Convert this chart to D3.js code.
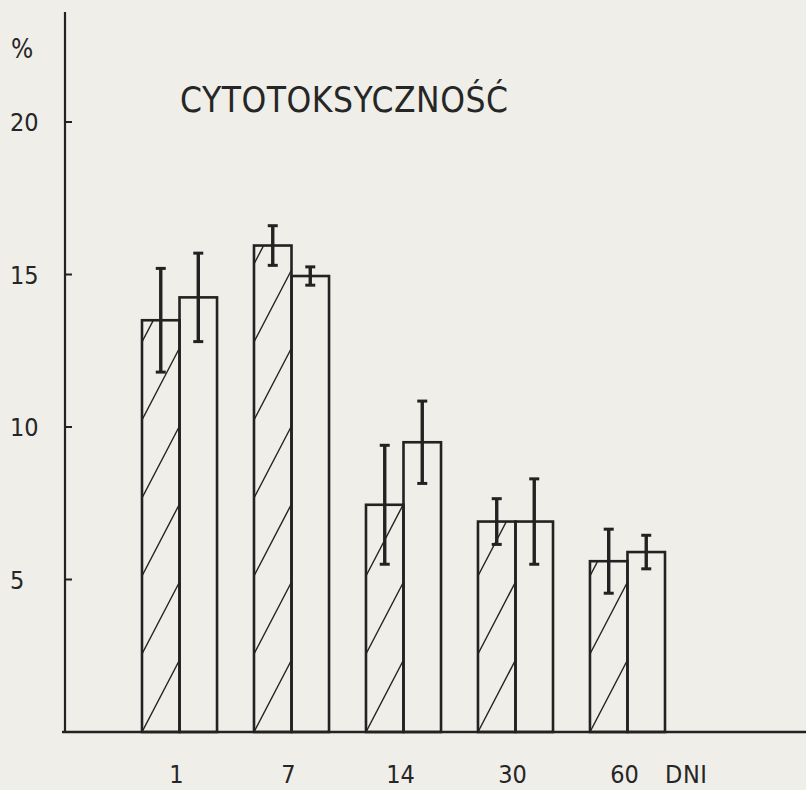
<!DOCTYPE html>
<html>
<head>
<meta charset="utf-8">
<script src="https://cdn.jsdelivr.net/npm/d3@7"></script>
<style>
  body { margin: 0; background: #efeee8; }
  svg { display: block; }
  text { font-family: "DejaVu Sans Condensed", "DejaVu Sans", sans-serif; fill: #262626; }
</style>
</head>
<body>
<svg width="806" height="790"></svg>
<script>
// days after treatment (x categories)
const days = ["1", "7", "14", "30", "60"];
// hatched bars and their error (half range)
const hatched = [13.5, 15.95, 7.45, 6.9, 5.6];
const hatchedErr = [1.7, 0.65, 1.95, 0.75, 1.05];
// open bars and their error
const open = [14.25, 14.95, 9.5, 6.9, 5.9];
const openErr = [1.45, 0.3, 1.35, 1.4, 0.55];
const yTicks = [5, 10, 15, 20];

const ink = "#222";
const svg = d3.select("svg");

const baseY = 732;
const axisX = 65;

const y = d3.scaleLinear().domain([0, 20]).range([baseY, 122]);

const x0 = d3.scaleBand()
  .domain(days)
  .range([142, 665])
  .paddingInner(0.33)
  .paddingOuter(0);

const x1 = d3.scaleBand()
  .domain(["h", "o"])
  .range([0, x0.bandwidth()]);

const rows = days.map((d, i) => [
  { day: d, key: "h", value: hatched[i], err: hatchedErr[i] },
  { day: d, key: "o", value: open[i], err: openErr[i] }
]).flat();

// axes
svg.append("line")
  .attr("x1", axisX).attr("x2", axisX)
  .attr("y1", 12).attr("y2", baseY + 1)
  .attr("stroke", ink).attr("stroke-width", 2.2);

svg.append("line")
  .attr("x1", 62).attr("x2", 806)
  .attr("y1", baseY).attr("y2", baseY)
  .attr("stroke", ink).attr("stroke-width", 2.6);

svg.append("g").selectAll("line")
  .data(yTicks)
  .enter().append("line")
  .attr("x1", axisX).attr("x2", axisX + 7)
  .attr("y1", d => y(d)).attr("y2", d => y(d))
  .attr("stroke", ink).attr("stroke-width", 2);

svg.append("g").selectAll("text")
  .data(yTicks)
  .enter().append("text")
  .attr("x", 10)
  .attr("y", d => y(d))
  .attr("dy", "0.36em")
  .attr("font-size", 25)
  .text(d => d);

svg.append("text")
  .attr("x", 11).attr("y", 58)
  .attr("font-size", 26)
  .text("%");

// title
svg.append("text")
  .attr("x", 180).attr("y", 112)
  .attr("font-size", 35)
  .attr("textLength", 328)
  .attr("lengthAdjust", "spacing")
  .text("CYTOTOKSYCZNOŚĆ");

// hatch lines inside hatched bars, drawn before outlines
const hatchGap = 78;
const hatchRise = 72;
const hatchG = svg.append("g");
rows.filter(r => r.key === "h").forEach((r, i) => {
  const left = x0(r.day) + x1("h");
  const w = x1.bandwidth();
  const top = y(r.value);
  const clipId = "clip" + i;
  svg.append("clipPath").attr("id", clipId)
    .append("rect")
    .attr("x", left).attr("y", top)
    .attr("width", w).attr("height", baseY - top);
  const ks = d3.range(0, Math.ceil((baseY - top) / hatchGap) + 1);
  hatchG.append("g")
    .attr("clip-path", `url(#${clipId})`)
    .selectAll("line")
    .data(ks)
    .enter().append("line")
    .attr("x1", left).attr("y1", k => baseY - k * hatchGap)
    .attr("x2", left + w).attr("y2", k => baseY - k * hatchGap - hatchRise)
    .attr("stroke", ink).attr("stroke-width", 1.4);
});

// bar outlines
svg.append("g").selectAll("rect")
  .data(rows)
  .enter().append("rect")
  .attr("x", d => x0(d.day) + x1(d.key))
  .attr("y", d => y(d.value))
  .attr("width", x1.bandwidth())
  .attr("height", d => baseY - y(d.value))
  .attr("fill", "none")
  .attr("stroke", ink)
  .attr("stroke-width", 2.6);

// error bars
const errG = svg.append("g")
  .selectAll("g")
  .data(rows)
  .enter().append("g")
  .attr("transform", d => `translate(${x0(d.day) + x1(d.key) + x1.bandwidth() / 2},0)`);

errG.append("line")
  .attr("y1", d => y(d.value + d.err))
  .attr("y2", d => y(d.value - d.err))
  .attr("stroke", ink).attr("stroke-width", 3.4);

errG.selectAll(".cap")
  .data(d => [d.value + d.err, d.value - d.err])
  .enter().append("line")
  .attr("class", "cap")
  .attr("x1", -5).attr("x2", 5)
  .attr("y1", v => y(v)).attr("y2", v => y(v))
  .attr("stroke", ink).attr("stroke-width", 3);

// x labels
svg.append("g").selectAll("text")
  .data(days)
  .enter().append("text")
  .attr("x", d => x0(d) + x0.bandwidth() / 2 - 3)
  .attr("y", 783)
  .attr("text-anchor", "middle")
  .attr("font-size", 25)
  .text(d => d);

svg.append("text")
  .attr("x", 665).attr("y", 783)
  .attr("font-size", 25)
  .attr("textLength", 42)
  .attr("lengthAdjust", "spacing")
  .text("DNI");
</script>
</body>
</html>
